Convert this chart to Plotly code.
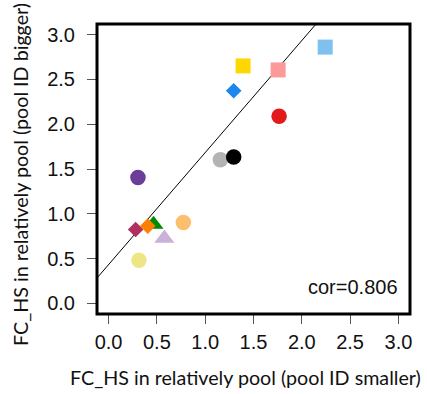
import plotly.graph_objects as go

# data
labels = ["gray", "black", "purple", "khaki", "lavender", "green", "maroon", "orange",
          "lightorange", "red", "dodgerblue", "gold", "pink", "skyblue"]
x_smaller = [1.157, 1.295, 0.304, 0.314, 0.577, 0.465, 0.280, 0.405,
             0.774, 1.765, 1.295, 1.392, 1.755, 2.242]
y_bigger = [1.603, 1.634, 1.405, 0.480, 0.725, 0.880, 0.824, 0.862,
            0.903, 2.090, 2.375, 2.652, 2.607, 2.862]
colors = ["#B3B3B3", "#000000", "#6A3D9A", "#EEE685", "#CAB2D6", "#008B00", "#B03060", "#FF7F00",
          "#FDBF6F", "#E31A1C", "#1C86EE", "#FFD700", "#FB9A99", "#7EC0EE"]
symbols = ["circle", "circle", "circle", "circle", "triangle-up", "triangle-up", "diamond", "diamond",
           "circle", "circle", "diamond", "square", "square", "square"]
sizes = [15.5, 15.5, 15.5, 15.5, 17.5, 17.5, 12, 12, 15.5, 15.5, 12, 15, 15, 15]

fit_intercept = 0.432
fit_slope = 1.2515
fit_x = [-0.2, 3.2]
cor_text = "cor=0.806"

tick_vals = [0, 0.5, 1.0, 1.5, 2.0, 2.5, 3.0]
tick_text = ["0.0", "0.5", "1.0", "1.5", "2.0", "2.5", "3.0"]

W, H = 427, 394
L, R, T, B = 97, 17, 24, 80

fig = go.Figure()
fig.add_trace(go.Scatter(
    x=fit_x, y=[fit_intercept + fit_slope * v for v in fit_x],
    mode="lines", line=dict(color="black", width=1), hoverinfo="skip", showlegend=False))
fig.add_trace(go.Scatter(
    x=x_smaller, y=y_bigger, mode="markers", text=labels, showlegend=False,
    marker=dict(color=colors, symbol=symbols, size=sizes, opacity=1, line=dict(width=0))))

axis_common = dict(
    tickvals=tick_vals, ticktext=tick_text, ticks="outside", ticklen=9, tickwidth=1,
    tickcolor="#555555", showline=False, showgrid=False, zeroline=False,
    tickfont=dict(family="Liberation Sans", size=20, color="#111111"),
    range=[-0.12, 3.12], fixedrange=True)

fig.update_layout(
    width=W, height=H, margin=dict(l=L, r=R, t=T, b=B),
    paper_bgcolor="white", plot_bgcolor="white",
    xaxis=dict(**axis_common, ticklabelstandoff=1),
    yaxis=dict(**axis_common, ticklabelstandoff=8),
    shapes=[dict(type="rect", xref="paper", yref="paper", x0=0, x1=1, y0=0, y1=1,
                 line=dict(color="black", width=3), layer="above")],
    annotations=[
        dict(text=cor_text, xref="paper", yref="paper", x=1, y=0, xanchor="right", yanchor="middle",
             xshift=-10, yshift=27, showarrow=False,
             font=dict(family="Liberation Sans", size=20, color="#111111")),
        dict(text="FC_HS in relatively pool (pool ID smaller)", xref="paper", yref="paper",
             x=0, y=0, xanchor="center", yanchor="middle", xshift=245 - L, yshift=-(377 - (H - B)),
             showarrow=False, font=dict(family="Lato", size=19.7, color="#111111")),
        dict(text="FC_HS in relatively pool (pool ID bigger)", xref="paper", yref="paper",
             x=0, y=1, xanchor="center", yanchor="middle", xshift=20 - L, yshift=-(175 - T),
             textangle=-90, showarrow=False, font=dict(family="Lato", size=19.7, color="#111111")),
    ],
)

fig.write_html("out.html")
